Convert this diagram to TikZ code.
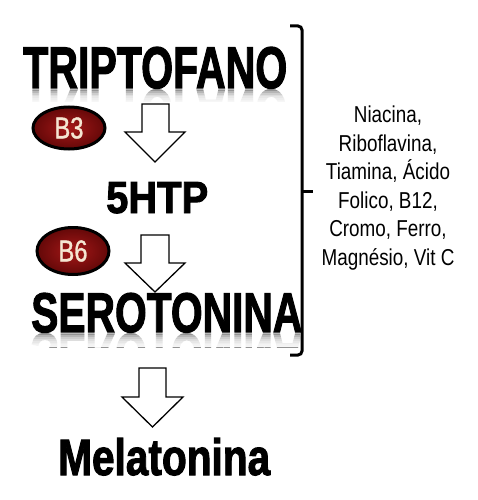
\documentclass[tikz,border=0pt]{standalone}
\usepackage{fontspec}
\setmainfont{Liberation Sans}
\newfontfamily\narrowfont[FakeStretch=0.82]{Liberation Sans}
\newfontfamily\heavyfont[FakeBold=2.2]{Liberation Sans Bold}
\newfontfamily\badgefont[FakeBold=1.2]{Liberation Sans}
\usepackage{graphicx}
\usetikzlibrary{shapes.geometric}
\definecolor{ovalin}{RGB}{165,24,24}
\definecolor{ovalout}{RGB}{100,8,8}
\definecolor{cream}{RGB}{245,230,210}
\begin{document}
\begin{tikzpicture}[x=1pt,y=-1pt,
  bigtext/.style={anchor=base west, inner sep=0pt, font=\heavyfont},
  refltext/.style={anchor=base west, inner sep=0pt, font=\heavyfont, text=black!42},
  fadestrip/.style={fill=white, opacity=0.32},
  blockarrow/.style={draw=black, line width=1.3pt, fill=white, line join=miter},
  vitamin/.style={ellipse, draw=black, line width=3pt, inner color=ovalin, outer color=ovalout,
     minimum width=72pt, inner sep=0pt, text=cream, font=\badgefont},
  bracketline/.style={draw=black, line width=3pt, rounded corners=4pt},
  listtext/.style={align=center, inner sep=0pt, font=\narrowfont\fontsize{23}{28.6}\selectfont}]
\useasboundingbox (0,0) rectangle (478,500);
\fill[white] (0,0) rectangle (478,500);

% reflections
\begin{scope}
  \clip (20,89.5) rectangle (300,102);
  \node[refltext] (trirefl) at (23,90) {\scalebox{1}[-1]{\resizebox{264pt}{41pt}{TRIPTOFANO}}};
  \foreach \i in {1,...,7} {\fill[fadestrip] (20,89.5+1.7*\i) rectangle (300,102);}
\end{scope}
\begin{scope}
  \clip (28,333.5) rectangle (300,347);
  \node[refltext] (serrefl) at (31,334) {\scalebox{1}[-1]{\resizebox{271pt}{39pt}{SEROTONINA}}};
  \foreach \i in {1,...,7} {\fill[fadestrip] (28,333.5+1.8*\i) rectangle (300,347);}
\end{scope}

% main texts
\node[bigtext] (tri) at (23,88) {\resizebox{264pt}{41pt}{TRIPTOFANO}};
\node[bigtext] (htp) at (106,213) {\resizebox{102pt}{31pt}{5HTP}};
\node[bigtext] (ser) at (31,332) {\resizebox{271pt}{39pt}{SEROTONINA}};
\node[bigtext] (mel) at (58,475) {\resizebox{212pt}{37pt}{Melatonina}};

% block arrows
\draw[blockarrow] (142,104) -- (169,104) -- (169,132) -- (185,132) -- (155,162) -- (125,132) -- (142,132) -- cycle;
\draw[blockarrow] (141,235) -- (169,235) -- (169,263) -- (185,263) -- (155,292) -- (125,263) -- (141,263) -- cycle;
\draw[blockarrow] (139,368) -- (166,368) -- (166,397) -- (183,397) -- (152.5,427) -- (122,397) -- (139,397) -- cycle;

% vitamin ovals
\node[vitamin, minimum height=42pt] (b3) at (69,128) {\resizebox{29pt}{21pt}{B3}};
\node[vitamin, minimum height=47pt] (b6) at (73,251) {\resizebox{29pt}{21pt}{B6}};

% bracket
\draw[bracketline] (290,26) -- (302,26) -- (302,355) -- (290,355);
\coordinate (bmid) at (302,191);
\coordinate (btick) at (313,191);
\draw[line width=3pt] (bmid) -- (btick);

% cofactor list
\node[listtext] (list) at (388,188) {Niacina,\\Riboflavina,\\Tiamina, Ácido\\Folico, B12,\\Cromo, Ferro,\\Magnésio, Vit C};
\end{tikzpicture}
\end{document}
